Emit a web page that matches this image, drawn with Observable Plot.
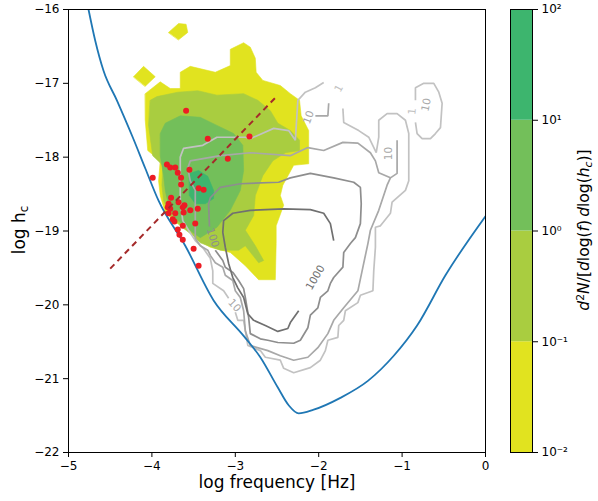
<!DOCTYPE html>
<html><head><meta charset="utf-8">
<script src="https://cdn.jsdelivr.net/npm/d3@7"></script>
<script src="https://cdn.jsdelivr.net/npm/@observablehq/plot@0.6"></script>
<style>
body{margin:0;background:#fff;font-family:"DejaVu Sans",sans-serif;}
#wrap{position:relative;width:598px;height:501px;background:#fff;overflow:hidden;}
#main{position:absolute;left:0;top:0;}
#cbar{position:absolute;left:500px;top:0;}
.lab{position:absolute;height:24px;line-height:24px;text-align:center;font-family:"DejaVu Sans",sans-serif;color:#000;white-space:nowrap;transform:rotate(-90deg);transform-origin:50% 50%;}
.lab sub{font-size:0.7em;vertical-align:-0.25em;line-height:0;}
.lab sup{font-size:0.7em;vertical-align:0.45em;line-height:0;}
#ylab{left:-131px;top:218px;width:300px;font-size:17px;}
#cblab{left:434px;top:218px;width:300px;font-size:15.5px;}
</style></head><body>
<div id="wrap"><div id="main"></div><div id="cbar"></div>
<div class="lab" id="ylab">log h<sub>c</sub></div>
<div class="lab" id="cblab"><i>d</i><sup>2</sup><i>N</i>/[<i>d</i>log(<i>f</i>)&#8201;<i>d</i>log(<i>h</i><sub><i>c</i></sub>)]</div>
</div>
<script>
// ---------------- data ----------------
const xTicks = [-5, -4, -3, -2, -1, 0];
const yTicks = [-22, -21, -20, -19, -18, -17, -16];
const cbTicks = [0.01, 0.1, 1, 10, 100];
const cbTickLabels = ["10\u207B\u00B2", "10\u207B\u00B9", "10\u2070", "10\u00B9", "10\u00B2"];
const cbLevels = [0.01, 0.1, 1, 10, 100];

// sensitivity curve (log f, log hc)
const sensX = [-4.76,-4.68,-4.58,-4.42,-4.23,-4.08,-3.92,-3.60,-3.26,-2.90,-2.70,-2.49,-2.36,-2.24,-2.06,-1.74,-1.41,-1.10,-0.82,-0.48,0];
const sensY = [-16.00,-16.42,-16.83,-17.23,-17.73,-18.15,-18.59,-19.20,-19.94,-20.42,-20.71,-21.12,-21.36,-21.47,-21.42,-21.26,-21.03,-20.69,-20.28,-19.60,-18.80];

// detected sources
const srcX = [-3.59,-3.33,-2.83,-3.09,-3.99,-3.82,-3.78,-3.72,-3.69,-3.55,-3.65,-3.65,-3.44,-3.38,-3.77,-3.80,-3.68,-3.81,-3.78,-3.63,-3.61,-3.54,-3.45,-3.80,-3.72,-3.62,-3.75,-3.73,-3.48,-3.63,-3.69,-3.67,-3.63,-3.50,-3.44];
const srcY = [-17.37,-17.75,-17.72,-18.02,-18.28,-18.10,-18.14,-18.14,-18.21,-18.17,-18.28,-18.37,-18.42,-18.44,-18.55,-18.63,-18.61,-18.68,-18.70,-18.68,-18.65,-18.72,-18.70,-18.76,-18.76,-18.75,-18.84,-18.87,-18.90,-18.93,-18.98,-19.05,-19.12,-19.24,-19.47];

// dashed relation
const relX = [-4.50, -2.49];
const relY = [-19.51, -17.16];

// filled density regions (outer boundaries per level)
const level1Main = [[-4.08,-17.14],[-3.90,-16.98],[-3.78,-17.07],[-3.66,-17.07],[-3.66,-16.85],[-3.54,-16.77],[-3.24,-16.85],[-3.06,-16.76],[-3.06,-16.54],[-2.90,-16.45],[-2.82,-16.51],[-2.76,-16.66],[-2.75,-16.85],[-2.67,-16.96],[-2.46,-17.03],[-2.34,-17.14],[-2.23,-17.23],[-2.21,-17.44],[-2.12,-17.64],[-2.12,-18.09],[-2.30,-18.11],[-2.43,-18.38],[-2.46,-18.52],[-2.42,-18.65],[-2.51,-18.93],[-2.51,-19.17],[-2.52,-19.66],[-2.72,-19.66],[-2.88,-19.47],[-3.06,-19.29],[-3.30,-19.22],[-3.44,-19.13],[-3.54,-18.97],[-3.71,-18.89],[-3.84,-18.75],[-3.90,-18.52],[-3.92,-18.32],[-3.90,-18.05],[-4.05,-17.91],[-4.08,-17.50]];
const level1IsleA = [[-3.80,-16.31],[-3.68,-16.19],[-3.59,-16.20],[-3.57,-16.31],[-3.68,-16.41]];
const level1IsleB = [[-4.22,-16.91],[-4.10,-16.77],[-3.96,-16.91],[-4.08,-17.04]];
const level2 = [[-4.02,-17.23],[-3.94,-17.18],[-3.69,-17.12],[-3.45,-17.10],[-3.22,-17.16],[-2.90,-17.14],[-2.73,-17.23],[-2.58,-17.37],[-2.49,-17.54],[-2.34,-17.64],[-2.23,-17.77],[-2.23,-17.91],[-2.40,-17.94],[-2.55,-18.05],[-2.67,-18.25],[-2.76,-18.52],[-2.78,-18.79],[-2.88,-18.99],[-2.76,-19.20],[-2.66,-19.40],[-2.72,-19.43],[-2.88,-19.20],[-2.96,-19.26],[-3.18,-19.26],[-3.42,-19.16],[-3.51,-19.06],[-3.66,-18.93],[-3.78,-18.79],[-3.86,-18.59],[-3.88,-18.38],[-3.87,-18.11],[-3.99,-17.98],[-4.04,-17.57]];
const level3 = [[-3.90,-17.68],[-3.84,-17.54],[-3.66,-17.44],[-3.42,-17.46],[-3.22,-17.57],[-3.02,-17.68],[-2.91,-17.84],[-2.90,-18.18],[-2.94,-18.45],[-3.06,-18.72],[-3.22,-18.95],[-3.42,-19.09],[-3.51,-19.02],[-3.60,-18.93],[-3.72,-18.83],[-3.80,-18.65],[-3.84,-18.45],[-3.86,-18.25],[-3.90,-17.98]];
const level4 = [[-3.55,-18.22],[-3.44,-18.18],[-3.33,-18.26],[-3.26,-18.45],[-3.26,-18.56],[-3.36,-18.63],[-3.48,-18.63],[-3.55,-18.52]];

// contour lines of the second population
const contour1a = [[-3.66,-18.59],[-3.66,-18.00],[-3.62,-17.88],[-3.39,-17.84],[-3.22,-17.73],[-2.88,-17.73],[-2.82,-17.75],[-2.54,-17.61],[-2.36,-17.64],[-2.28,-17.77],[-2.25,-17.23],[-2.16,-17.12],[-2.04,-17.06],[-1.94,-16.99]];
const contour1b = [[-1.71,-17.34],[-1.70,-17.53],[-1.52,-17.64],[-1.40,-17.73],[-1.31,-17.94],[-1.28,-17.73],[-1.28,-17.50],[-1.18,-17.41],[-1.06,-17.41],[-0.96,-17.50],[-0.92,-17.68],[-0.92,-18.32],[-0.96,-18.45],[-1.12,-18.61],[-1.14,-18.76],[-1.26,-18.93],[-1.32,-18.95],[-1.32,-19.22],[-1.34,-19.54],[-1.35,-19.81],[-1.50,-19.87],[-1.53,-19.97],[-1.68,-20.08],[-1.70,-20.21],[-1.76,-20.28],[-1.77,-20.44],[-1.89,-20.48],[-1.92,-20.62],[-1.98,-20.75],[-2.10,-20.85],[-2.30,-20.92],[-2.42,-20.86],[-2.46,-20.75],[-2.64,-20.71],[-2.70,-20.62],[-2.85,-20.55],[-2.90,-20.21],[-2.97,-20.21],[-3.00,-20.10]];
const contour1c = [[-3.08,-19.91],[-3.14,-19.81],[-3.27,-19.71],[-3.27,-19.54],[-3.30,-19.37],[-3.38,-19.24],[-3.48,-19.13],[-3.56,-18.99],[-3.63,-18.86],[-3.66,-18.59]];
const contour1d = [[-0.84,-17.23],[-0.84,-17.06],[-0.74,-17.00],[-0.62,-17.00],[-0.56,-17.12],[-0.52,-17.27],[-0.54,-17.60],[-0.60,-17.68],[-0.66,-17.75],[-0.76,-17.75],[-0.82,-17.68],[-0.84,-17.53]];
const contour10a = [[-1.06,-17.77],[-1.06,-18.22],[-1.14,-18.28],[-1.18,-18.38],[-1.23,-18.55],[-1.28,-18.72],[-1.38,-18.99],[-1.41,-19.17],[-1.47,-19.49],[-1.53,-19.81],[-1.70,-20.04],[-1.82,-20.21],[-1.89,-20.39],[-2.01,-20.58],[-2.13,-20.71],[-2.30,-20.75],[-2.46,-20.69],[-2.61,-20.62],[-2.82,-20.55],[-2.88,-20.35],[-2.90,-20.08],[-2.94,-19.90],[-3.00,-19.81],[-3.03,-19.67],[-3.12,-19.60],[-3.15,-19.49],[-3.24,-19.43],[-3.30,-19.33],[-3.33,-19.26],[-3.42,-19.20],[-3.48,-19.10],[-3.48,-18.45],[-3.54,-18.32],[-3.57,-18.15],[-3.54,-18.05],[-3.18,-17.98],[-2.82,-17.94],[-2.34,-17.98],[-2.13,-17.87],[-1.94,-17.91],[-1.71,-17.80],[-1.53,-17.81],[-1.38,-17.94],[-1.32,-18.05],[-1.28,-18.21],[-1.14,-18.28]];
const contour10b = [[-2.04,-17.44],[-1.89,-17.44],[-1.88,-17.27]];
const contour100 = [[-3.31,-18.94],[-3.32,-18.63],[-3.30,-18.55],[-3.18,-18.41],[-2.94,-18.36],[-2.48,-18.34],[-2.34,-18.28],[-2.10,-18.22],[-1.82,-18.28],[-1.58,-18.34],[-1.50,-18.41],[-1.49,-18.63],[-1.50,-18.90],[-1.56,-19.09],[-1.62,-19.17],[-1.70,-19.29],[-1.71,-19.49],[-1.82,-19.63],[-1.86,-19.71],[-1.89,-19.81],[-1.98,-19.90],[-2.01,-20.04],[-2.10,-20.14],[-2.13,-20.31],[-2.22,-20.48],[-2.30,-20.52],[-2.49,-20.51],[-2.61,-20.48],[-2.70,-20.46],[-2.82,-20.39],[-2.84,-20.17],[-2.88,-19.90],[-2.90,-19.78],[-2.96,-19.67],[-3.03,-19.56],[-3.12,-19.49],[-3.15,-19.40],[-3.24,-19.26]];
const contour1000 = [[-2.24,-20.08],[-2.34,-20.24],[-2.37,-20.32],[-2.49,-20.36],[-2.64,-20.28],[-2.78,-20.21],[-2.85,-20.12],[-2.90,-19.90],[-2.97,-19.77],[-3.03,-19.63],[-3.08,-19.44],[-3.12,-19.22],[-3.15,-19.02],[-3.14,-18.86],[-3.03,-18.76],[-2.82,-18.72],[-2.42,-18.70],[-2.10,-18.71],[-1.94,-18.76],[-1.86,-18.90],[-1.82,-19.13]];

// contour labels
const clabText = ["1", "10", "1", "10", "10", "100", "10", "1000"];
const clabX = [-1.76, -2.12, -0.88, -0.71, -1.16, -3.27, -3.01, -2.04];
const clabY = [-17.07, -17.46, -17.38, -17.29, -17.95, -19.09, -20.01, -19.63];

// ---------------- rendering ----------------
const bandColors = ["#e1e31f", "#a9cd40", "#73bf5a", "#3db56e"];
const lineGray = {c1: "#c2c2c2", c10: "#a8a8a8", c100: "#8e8e8e", c1000: "#707070"};
const labRotate = [-62, -70, -85, -78, -90, 72, 48, -60];
const labFill = [lineGray.c1, lineGray.c10, lineGray.c1, lineGray.c10, lineGray.c10, lineGray.c100, lineGray.c10, lineGray.c1000];

const toRows = (pts) => pts.map(([x, y]) => ({x, y}));
const sens = sensX.map((x, i) => ({x, y: sensY[i]}));
const srcs = srcX.map((x, i) => ({x, y: srcY[i]}));
const rel = relX.map((x, i) => ({x, y: relY[i]}));
const clabs = clabText.map((t, i) => ({t, x: clabX[i], y: clabY[i], i}));

const poly = (pts, color) => Plot.line(toRows(pts), {x: "x", y: "y", curve: "linear-closed", fill: color, stroke: color, strokeWidth: 0.6});
const cline = (pts, color) => Plot.line(toRows(pts), {x: "x", y: "y", stroke: color, strokeWidth: 1.7, strokeLinejoin: "miter", strokeLinecap: "butt"});

const main = Plot.plot({
  width: 500, height: 501,
  marginLeft: 68, marginRight: 15, marginTop: 9, marginBottom: 49,
  x: {domain: [-5, 0]},
  y: {domain: [-22, -16]},
  style: {fontFamily: "DejaVu Sans, sans-serif", fontSize: "12px", color: "#000", background: "#fff"},
  marks: [
    poly(level1Main, bandColors[0]),
    poly(level1IsleA, bandColors[0]),
    poly(level1IsleB, bandColors[0]),
    poly(level2, bandColors[1]),
    poly(level3, bandColors[2]),
    poly(level4, bandColors[3]),
    cline(contour1a, lineGray.c1),
    cline(contour1b, lineGray.c1),
    cline(contour1c, lineGray.c1),
    cline(contour1d, lineGray.c1),
    cline(contour10a, lineGray.c10),
    cline(contour10b, lineGray.c10),
    cline(contour100, lineGray.c100),
    cline(contour1000, lineGray.c1000),
    ...clabs.map(d => Plot.text([d], {x: "x", y: "y", text: "t", rotate: labRotate[d.i], fill: labFill[d.i], fontSize: 10.5})),
    Plot.line(sens, {x: "x", y: "y", stroke: "#1f77b4", strokeWidth: 1.8, curve: "monotone-x", clip: true}),
    Plot.dot(srcs, {x: "x", y: "y", r: 3, fill: "#ec1c24", stroke: null}),
    Plot.line(rel, {x: "x", y: "y", stroke: "#a52a2a", strokeWidth: 2, strokeDasharray: "6,4.5", strokeLinecap: "butt"}),
    Plot.frame({stroke: "#000", strokeWidth: 1}),
    Plot.axisX({ticks: xTicks, tickFormat: "d", tickSize: 5, tickPadding: 4, label: null, fontSize: 12}),
    Plot.axisY({ticks: yTicks, tickFormat: "d", tickSize: 5, tickPadding: 4, label: null, fontSize: 12}),
    Plot.text(["log frequency [Hz]"], {frameAnchor: "bottom", dy: 35, fontSize: 17, fill: "#000"})
  ]
});
document.getElementById("main").appendChild(main);

const bands = bandColors.map((c, i) => ({lo: cbLevels[i], hi: cbLevels[i + 1], c}));
const cbar = Plot.plot({
  width: 98, height: 501,
  marginLeft: 10, marginRight: 66, marginTop: 9, marginBottom: 49,
  x: {domain: [0, 1], axis: null},
  y: {type: "log", domain: [0.01, 100], axis: null},
  color: {type: "identity"},
  style: {fontFamily: "DejaVu Sans, sans-serif", fontSize: "12px", color: "#000", background: "transparent"},
  marks: [
    Plot.rect(bands, {x1: 0, x2: 1, y1: "lo", y2: "hi", fill: "c", inset: 0}),
    Plot.frame({stroke: "#000", strokeWidth: 1}),
    Plot.axisY({anchor: "right", ticks: cbTicks, tickFormat: (d) => cbTickLabels[cbTicks.indexOf(d)], tickSize: 5, tickPadding: 4, label: null, fontSize: 12})
  ]
});
document.getElementById("cbar").appendChild(cbar);
</script>
</body></html>
